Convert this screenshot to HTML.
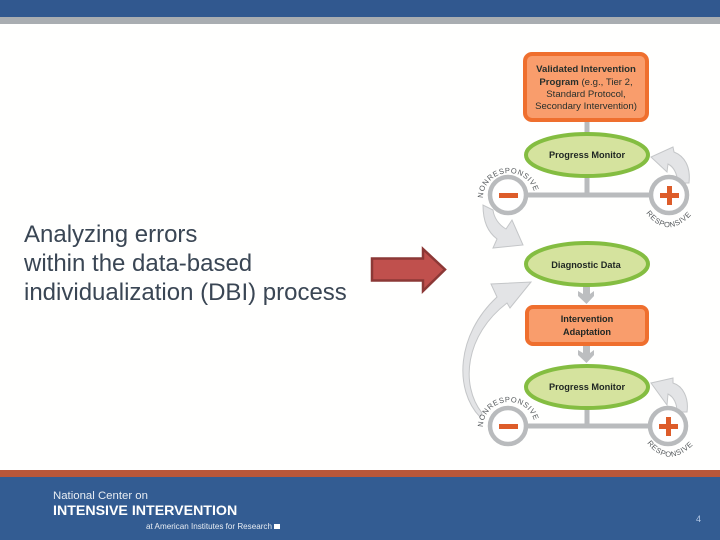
<!DOCTYPE html>
<html><head><meta charset="utf-8"><style>
html,body{margin:0;padding:0;background:#fff}
#p{position:relative;width:720px;height:540px;overflow:hidden;background:#fffffe;font-family:"Liberation Sans",sans-serif}
#p div{position:absolute}
</style></head><body><div id="p">
<div style="left:0;top:0;width:720px;height:17px;background:#31588f"></div>
<div style="left:0;top:17px;width:720px;height:7px;background:#a9adb1"></div>
<div style="left:0;top:470px;width:720px;height:7px;background:#b9573a"></div>
<div style="left:0;top:477px;width:720px;height:63px;background:#335c92"></div>
<div style="left:24px;top:220px;font-size:24px;line-height:29px;color:#3a4654;white-space:nowrap">Analyzing errors<br>within the data-based<br>individualization (DBI) process</div>
<svg width="720" height="540" style="position:absolute;left:0;top:0" font-family="Liberation Sans, sans-serif">
<defs>
<path id="n1" d="M483 198A26 25 0 0 1 535 198"/>
<path id="r1" d="M646 213Q668 242 694 212"/>
<path id="n2" d="M483 427A26 25 0 0 1 535 427"/>
<path id="r2" d="M647 443Q668 470 694 444"/>
</defs>
<polygon points="372,258.500 423,258.500 423,249 445,269.500 423,291 423,280.500 372,280.500" fill="#c0504d" stroke="#8c3836" stroke-width="2.500"/>
<g stroke="#b9bbbd" stroke-width="5" fill="none">
<path d="M587 120V134M587 177V195M528 195H649M587 409V426M528 426H648"/>
</g>
<g fill="#bcbec0">
<polygon points="583,285 590,285 590,294 594,291 594,296 586.500,304 578,296 578,291 583,294"/>
<polygon points="583,344 590,344 590,353 594,350 594,355 586.500,363 578,355 578,350 583,353"/>
</g>
<g fill="#e3e4e6" stroke="#c4c6c8" stroke-width="1">
<path d="M483 205C483 222 488 232 497 239L493 248L523 245L512 220L506 229C499 225 494 218 493 210Z"/>
<path d="M689 183C691 166 684 156 674 152L673 147L651 157L667 172L668 164C674 167 677 173 678 183Z"/>
<path d="M480 417C454 390 456 335 497 297L491 284L531 282L510 308L507 303C465 335 460 385 482 413Z"/>
<path d="M687 412C689 398 683 386 673 383L673 378L651 383L667 405L668 394C674 397 677 404 677 412Z"/>
</g>
<g stroke="#b9bbbd" stroke-width="4.500" fill="#fff">
<circle cx="508" cy="195" r="18"/><circle cx="669" cy="195" r="18"/>
<circle cx="508" cy="426" r="18"/><circle cx="668" cy="426" r="18"/>
</g>
<g fill="#dd5c2a">
<rect x="499" y="193" width="19" height="5"/>
<rect x="660" y="193" width="19" height="5"/><rect x="667" y="186" width="5" height="19"/>
<rect x="499" y="424" width="19" height="5"/>
<rect x="659" y="424" width="19" height="5"/><rect x="666" y="417" width="5" height="19"/>
</g>
<g fill="#f99d6c" stroke="#ef6f2e" stroke-width="4">
<rect x="525" y="54" width="122" height="66" rx="7"/>
<rect x="527" y="307" width="120" height="37" rx="6"/>
</g>
<g fill="#d5e39e" stroke="#84bd41" stroke-width="4">
<ellipse cx="587" cy="155" rx="61" ry="21"/>
<ellipse cx="587" cy="264" rx="61" ry="21"/>
<ellipse cx="587" cy="387" rx="61" ry="21"/>
</g>
<g font-size="9.600" text-anchor="middle" fill="#28302c">
<text x="586" y="72" font-weight="700">Validated Intervention</text>
<text x="586" y="85"><tspan font-weight="700">Program</tspan> (e.g., Tier 2,</text>
<text x="586" y="97">Standard Protocol,</text>
<text x="586" y="109">Secondary Intervention)</text>
</g>
<g font-size="9.200" text-anchor="middle" fill="#1f2623" font-weight="700">
<text x="587" y="158">Progress Monitor</text>
<text x="586" y="268">Diagnostic Data</text>
<text x="587" y="322">Intervention</text>
<text x="587" y="335">Adaptation</text>
<text x="587" y="390">Progress Monitor</text>
</g>
<g font-size="7.500" fill="#55595c" letter-spacing=".6">
<text><textPath href="#n1">NONRESPONSIVE</textPath></text>
<text><textPath href="#r1">RESPONSIVE</textPath></text>
<text><textPath href="#n2">NONRESPONSIVE</textPath></text>
<text><textPath href="#r2">RESPONSIVE</textPath></text>
</g>
<g fill="#e8edf3">
<text x="53" y="499" font-size="11.400">National Center on</text>
<text x="53" y="515" font-size="14.200" font-weight="700" fill="#fff">INTENSIVE INTERVENTION</text>
<text x="146" y="529" font-size="8.100">at American Institutes for Research</text>
<rect x="274" y="524" width="6" height="5" fill="#fff"/>
<text x="696" y="522" font-size="9" fill="#b5c9e6">4</text>
</g>
</svg>
</div></body></html>
